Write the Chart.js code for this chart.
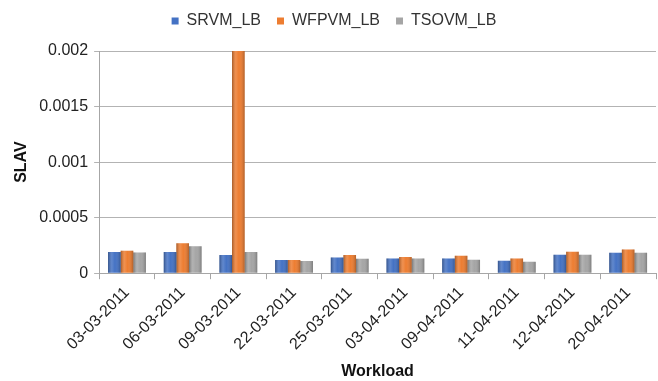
<!DOCTYPE html>
<html>
<head>
<meta charset="utf-8">
<script src="https://cdn.jsdelivr.net/npm/chart.js@4/dist/chart.umd.min.js"></script>
<style>
  html, body { margin: 0; padding: 0; background: #fff; }
  #wrap { width: 658px; height: 381px; }
</style>
</head>
<body>
<div id="wrap"><canvas id="myChart" width="658" height="381"></canvas></div>
<script>
// workload dates
const workloads = ['03-03-2011', '06-03-2011', '09-03-2011', '22-03-2011', '25-03-2011',
                   '03-04-2011', '09-04-2011', '11-04-2011', '12-04-2011', '20-04-2011'];

// SLAV per algorithm
const srvmLB  = [0.000190, 0.000190, 0.000163, 0.000118, 0.000142, 0.000133, 0.000133, 0.000111, 0.000166, 0.000184];
const wfpvmLB = [0.000203, 0.000269, 0.002300, 0.000118, 0.000163, 0.000145, 0.000157, 0.000133, 0.000193, 0.000214];
const tsovmLB = [0.000187, 0.000242, 0.000190, 0.000109, 0.000130, 0.000133, 0.000120, 0.000102, 0.000166, 0.000184];

const yTicks = [0, 0.0005, 0.001, 0.0015, 0.002];

Chart.defaults.font.family = "'Liberation Sans', Arial, sans-serif";
Chart.defaults.font.size = 16;
Chart.defaults.color = '#333';

// cylinder-ish shading over each bar, like the office chart
const barShade = {
  id: 'barShade',
  afterDatasetsDraw(chart) {
    const ctx = chart.ctx, area = chart.chartArea;
    ctx.save();
    ctx.beginPath();
    ctx.rect(area.left, area.top, area.right - area.left, area.bottom - area.top);
    ctx.clip();
    chart.data.datasets.forEach((ds, i) => {
      chart.getDatasetMeta(i).data.forEach(bar => {
        const p = bar.getProps(['x', 'y', 'base', 'width'], true);
        const l = p.x - p.width / 2;
        const g = ctx.createLinearGradient(l, 0, l + p.width, 0);
        g.addColorStop(0, 'rgba(0,0,0,0.3)');
        g.addColorStop(0.3, 'rgba(255,255,255,0.15)');
        g.addColorStop(0.55, 'rgba(255,255,255,0.0)');
        g.addColorStop(1, 'rgba(0,0,0,0.25)');
        ctx.fillStyle = g;
        ctx.fillRect(l, p.y, p.width, p.base - p.y);
      });
    });
    ctx.restore();
  }
};

// more room below the legend
const legendGap = {
  id: 'legendGap',
  beforeInit(chart) {
    const fit = chart.legend.fit;
    chart.legend.fit = function () {
      fit.bind(chart.legend)();
      this.height += 12;
    };
  }
};

let ctx = document.getElementById('myChart').getContext('2d');
let chart = new Chart(ctx, {
  type: 'bar',
  data: {
    labels: workloads,
    datasets: [
      { label: 'SRVM_LB', data: srvmLB, backgroundColor: '#4472C4' },
      { label: 'WFPVM_LB', data: wfpvmLB, backgroundColor: '#ED7D31' },
      { label: 'TSOVM_LB', data: tsovmLB, backgroundColor: '#A5A5A5' }
    ]
  },
  options: {
    responsive: false,
    animation: false,
    devicePixelRatio: 1,
    categoryPercentage: 0.68,
    barPercentage: 1,
    layout: { padding: { left: 12, right: 2, top: -3, bottom: 0 } },
    plugins: {
      tooltip: { enabled: false },
      legend: {
        position: 'top',
        labels: { boxWidth: 7, boxHeight: 7, padding: 16, color: '#333' }
      }
    },
    scales: {
      x: {
        grid: { drawOnChartArea: false, drawTicks: true, tickLength: 6, color: '#a6a6a6', offset: true },
        border: { color: '#a6a6a6' },
        ticks: { maxRotation: 45, minRotation: 45, padding: 4, color: '#222' },
        title: { display: true, text: 'Workload', font: { weight: 'bold', size: 16 }, color: '#111', padding: { top: 4, bottom: 0 } }
      },
      y: {
        min: 0,
        max: 0.002,
        afterBuildTicks: axis => { axis.ticks = yTicks.map(v => ({ value: v })); },
        grid: { color: '#b3b3b3', tickLength: 5 },
        border: { color: '#a6a6a6' },
        ticks: { padding: 6, color: '#222', callback: v => String(+v.toFixed(4)) },
        title: { display: true, text: 'SLAV', font: { weight: 'bold', size: 16 }, color: '#111', padding: { top: 0, bottom: 2 } }
      }
    }
  },
  plugins: [barShade, legendGap]
});
</script>
</body>
</html>
